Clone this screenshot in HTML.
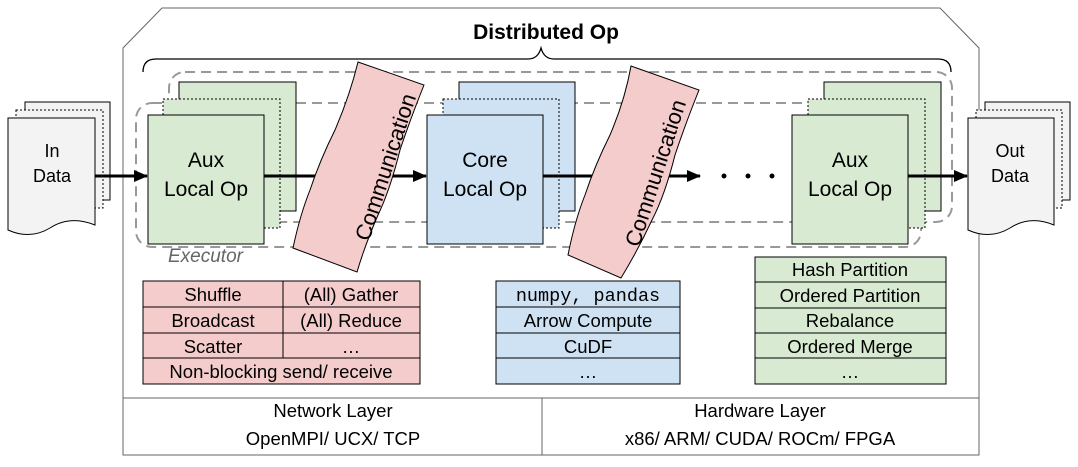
<!DOCTYPE html>
<html><head><meta charset="utf-8"><style>
html,body{margin:0;padding:0;background:#fff}
svg{display:block}
text{font-family:"Liberation Sans",sans-serif;fill:#000}
</style></head><body>
<svg width="1078" height="467" viewBox="0 0 1078 467" xmlns="http://www.w3.org/2000/svg">
<defs>
<marker id="ah" markerWidth="14" markerHeight="12" refX="13" refY="6" orient="auto" markerUnits="userSpaceOnUse"><path d="M0,0 L14,6 L0,12 z" fill="#000"/></marker>
</defs>
<path d="M123,48 L162,8 L940,8 L979,48 L979,455 L123,455 Z" fill="#fff" stroke="#666" stroke-width="1"/>
<line x1="123" y1="398" x2="979" y2="398" stroke="#666"/>
<line x1="542" y1="398" x2="542" y2="455" stroke="#666"/>
<text x="546" y="39" font-size="21" font-weight="bold" text-anchor="middle">Distributed Op</text>
<path d="M143,72 Q143,59 156,59 L528,59 Q538,59 541,48 Q544,59 554,59 L938,59 Q951,59 951,72" fill="none" stroke="#000" stroke-width="1.3"/>
<rect x="169" y="72" width="783" height="150" rx="16" fill="none" stroke="#999" stroke-width="2" stroke-dasharray="10,6"/>
<rect x="136" y="103" width="785" height="144" rx="16" fill="none" stroke="#999" stroke-width="2" stroke-dasharray="10,6"/>
<text x="168" y="262" font-size="19" font-style="italic" style="fill:#666">Executor</text>
<g stroke="#000" stroke-width="1">
<path d="M25,102 L110,102 L110,200 L25,200 Z" fill="#f3f3f3"/>
<path d="M16,110 L103,110 L103,208 L16,208 Z" fill="#f3f3f3" stroke-dasharray="2,2"/>
<path d="M8,118 L95,118 L95,225 Q70,215 50,228 Q30,240 8,230 Z" fill="#f3f3f3"/>
<path d="M985,102 L1070,102 L1070,200 L985,200 Z" fill="#f3f3f3"/>
<path d="M976,110 L1062,110 L1062,208 L976,208 Z" fill="#f3f3f3" stroke-dasharray="2,2"/>
<path d="M968,118 L1054,118 L1054,225 Q1030,215 1010,228 Q990,240 968,230 Z" fill="#f3f3f3"/>
</g>
<text x="52" y="157" font-size="18" text-anchor="middle">In</text>
<text x="52" y="182" font-size="18" text-anchor="middle">Data</text>
<text x="1010" y="157" font-size="18" text-anchor="middle">Out</text>
<text x="1010" y="182" font-size="18" text-anchor="middle">Data</text>
<g stroke="#000" stroke-width="1">
<rect x="179" y="82" width="117" height="129" fill="#d9ead3"/>
<rect x="163" y="99" width="117" height="129" fill="#d9ead3" stroke-dasharray="2,2"/>
<rect x="148" y="115" width="116" height="129" fill="#d9ead3"/>
<rect x="459" y="82" width="116" height="129" fill="#cfe2f3"/>
<rect x="443" y="99" width="116" height="129" fill="#cfe2f3" stroke-dasharray="2,2"/>
<rect x="427" y="115" width="116" height="129" fill="#cfe2f3"/>
<rect x="824" y="82" width="117" height="129" fill="#d9ead3"/>
<rect x="808" y="99" width="117" height="129" fill="#d9ead3" stroke-dasharray="2,2"/>
<rect x="792" y="115" width="116" height="129" fill="#d9ead3"/>
</g>
<text x="206" y="167" font-size="21" text-anchor="middle">Aux</text>
<text x="206" y="196" font-size="21" text-anchor="middle">Local Op</text>
<text x="485" y="167" font-size="21" text-anchor="middle">Core</text>
<text x="485" y="196" font-size="21" text-anchor="middle">Local Op</text>
<text x="850" y="167" font-size="21" text-anchor="middle">Aux</text>
<text x="850" y="196" font-size="21" text-anchor="middle">Local Op</text>
<g stroke="#000" stroke-width="3" marker-end="url(#ah)">
<line x1="95" y1="176" x2="147" y2="176"/>
<line x1="264" y1="176" x2="426" y2="176"/>
<line x1="543" y1="176" x2="700" y2="176"/>
<line x1="908" y1="176" x2="967" y2="176"/>
</g>
<g fill="#000"><circle cx="724" cy="176" r="2.5"/><circle cx="748" cy="176" r="2.5"/><circle cx="772" cy="176" r="2.5"/></g>
<path d="M358,62 L424,85 Q410,120 400,150 Q390,190 378,215 Q365,245 357,272 L293,248 Q300,215 310,190 Q320,160 335,130 Q350,95 358,62 Z" fill="#f4cccc" stroke="#000" stroke-width="1"/>
<text transform="translate(369,242) rotate(-72)" font-size="22">Communication</text>
<path d="M631,66 L699,90 Q685,125 675,155 Q665,195 652,220 Q638,250 621,278 L568,255 Q575,220 585,195 Q595,165 610,135 Q625,100 631,66 Z" fill="#f4cccc" stroke="#000" stroke-width="1"/>
<text transform="translate(639,248) rotate(-72)" font-size="22">Communication</text>
<g stroke="#000" stroke-width="1">
<rect x="143" y="281" width="277" height="103" fill="#f4cccc"/>
<line x1="143" y1="307" x2="420" y2="307"/><line x1="143" y1="333" x2="420" y2="333"/><line x1="143" y1="358" x2="420" y2="358"/>
<line x1="283" y1="281" x2="283" y2="358"/>
<rect x="496" y="281" width="184" height="103" fill="#cfe2f3"/>
<line x1="496" y1="307" x2="680" y2="307"/><line x1="496" y1="333" x2="680" y2="333"/><line x1="496" y1="358" x2="680" y2="358"/>
<rect x="755" y="257" width="191" height="127" fill="#d9ead3"/>
<line x1="755" y1="282" x2="946" y2="282"/><line x1="755" y1="308" x2="946" y2="308"/><line x1="755" y1="333" x2="946" y2="333"/><line x1="755" y1="358" x2="946" y2="358"/>
</g>
<g font-size="18.5" text-anchor="middle">
<text x="213" y="301">Shuffle</text><text x="351" y="301">(All) Gather</text>
<text x="213" y="327">Broadcast</text><text x="351" y="327">(All) Reduce</text>
<text x="213" y="353">Scatter</text><text x="351" y="353">…</text>
<text x="281" y="378">Non-blocking send/ receive</text>
<text x="588" y="301" style="font-family:'Liberation Mono',monospace">numpy, pandas</text>
<text x="588" y="327">Arrow Compute</text>
<text x="588" y="353">CuDF</text>
<text x="588" y="378">…</text>
<text x="850" y="276">Hash Partition</text>
<text x="850" y="302">Ordered Partition</text>
<text x="850" y="327">Rebalance</text>
<text x="850" y="353">Ordered Merge</text>
<text x="850" y="378">…</text>
<text x="333" y="417">Network Layer</text>
<text x="333" y="445">OpenMPI/ UCX/ TCP</text>
<text x="760" y="417">Hardware Layer</text>
<text x="760" y="445">x86/ ARM/ CUDA/ ROCm/ FPGA</text>
</g>
</svg>
</body></html>
